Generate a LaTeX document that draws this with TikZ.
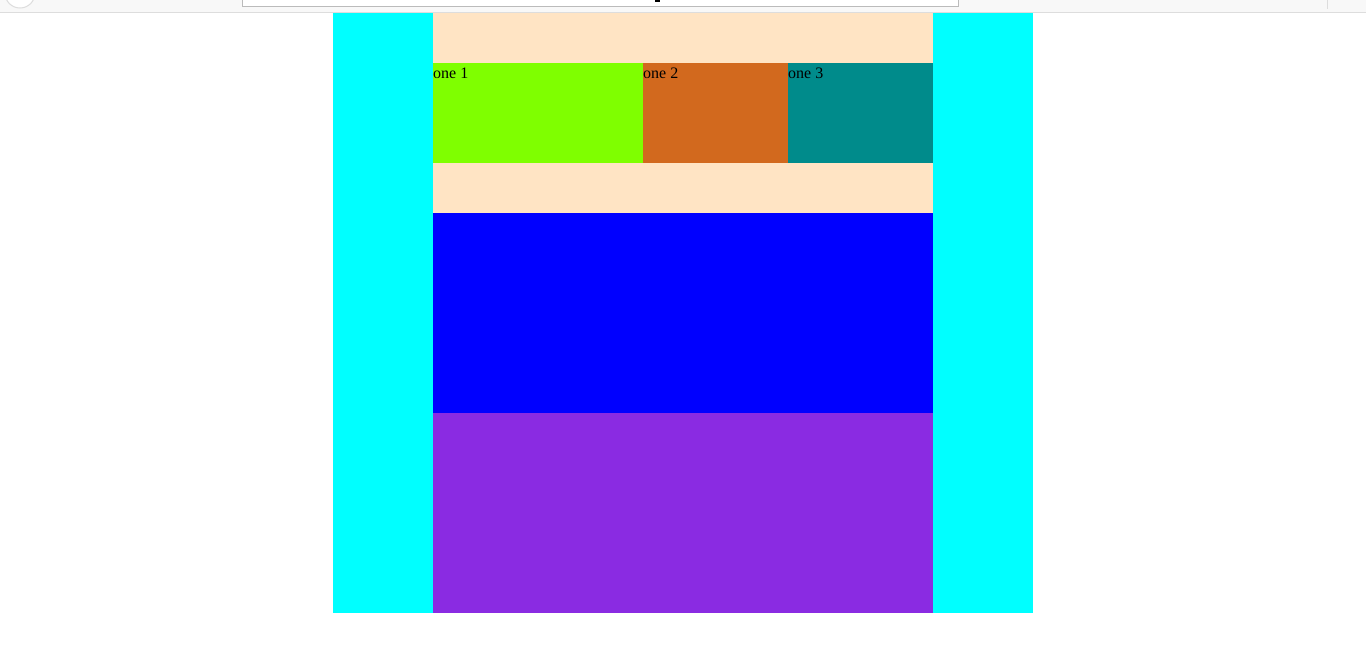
\documentclass[tikz,border=0pt]{standalone}
\usepackage{fontspec}
\setmainfont{Liberation Serif}
\definecolor{chrome}{HTML}{F8F8F8}
\definecolor{chromeline}{HTML}{DDDDDD}
\definecolor{barline}{HTML}{BBBBBB}
\definecolor{cyanc}{HTML}{00FFFF}
\definecolor{bisquec}{HTML}{FFE4C4}
\definecolor{greenc}{HTML}{7FFF00}
\definecolor{chococ}{HTML}{D2691E}
\definecolor{tealc}{HTML}{008B8B}
\definecolor{bluec}{HTML}{0000FF}
\definecolor{purplec}{HTML}{8A2BE2}
\begin{document}
\begin{tikzpicture}[x=1pt,y=-1pt,
  block/.style={draw=none},
  lbl/.style={inner sep=0pt,anchor=base west,font=\fontsize{16}{18}\selectfont}]
\useasboundingbox (0,0) rectangle (1366,664);
\fill[white] (0,0) rectangle (1366,664);
% browser chrome
\fill[chrome] (0,0) rectangle (1366,12);
\draw[chromeline,line width=1pt] (0,12.5) -- (1366,12.5);
\begin{scope}
\clip (0,0) rectangle (1366,12);
\draw[chromeline,fill=white,line width=1pt] (20,-7) circle (15);
\end{scope}
\draw[barline,fill=white,line width=1pt] (242.5,-2) rectangle (958,6);
\fill[black] (655,0) rectangle (660,2);
\draw[chromeline,line width=1pt] (1327,0) -- (1327,9);
% layout blocks
\fill[cyanc] (333,13) rectangle (433,613);
\fill[cyanc] (933,13) rectangle (1033,613);
\fill[bisquec] (433,13) rectangle (933,213);
\fill[greenc] (433,63) rectangle (643,163);
\fill[chococ] (643,63) rectangle (788,163);
\fill[tealc] (788,63) rectangle (933,163);
\fill[bluec] (433,213) rectangle (933,413);
\fill[purplec] (433,413) rectangle (933,613);
% labels
\node[lbl] (one1) at (433,78) {one 1};
\node[lbl] (one2) at (643,78) {one 2};
\node[lbl] (one3) at (788,78) {one 3};
\end{tikzpicture}
\end{document}
